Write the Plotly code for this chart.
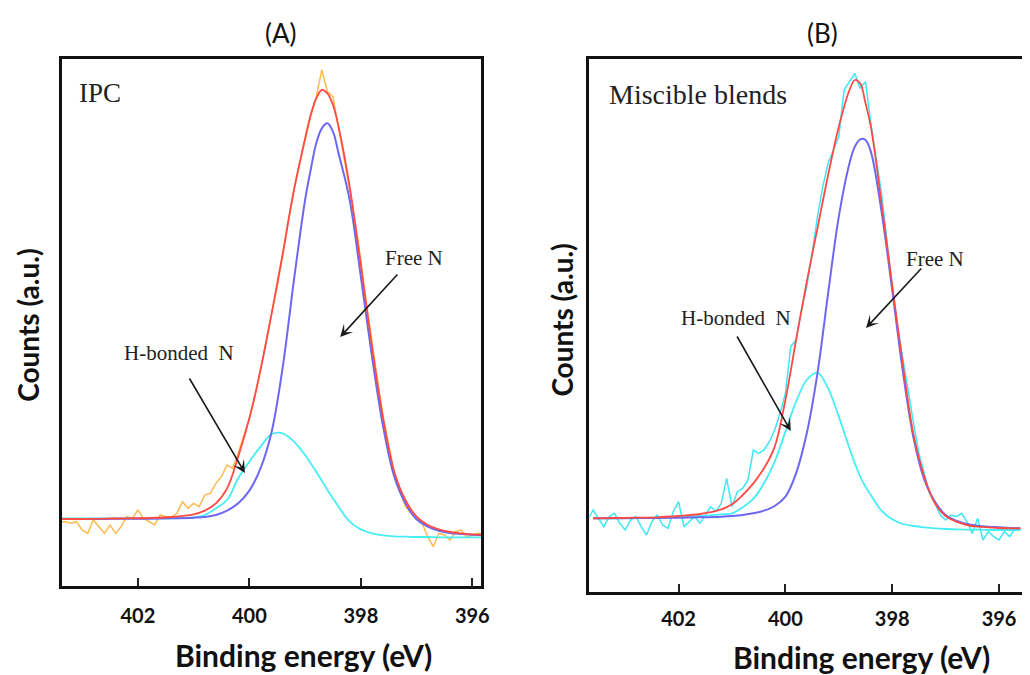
import plotly.graph_objects as go

# ---------------- Panel A: IPC ----------------
# binding energy grid of the fitted curves (eV)
energy_fit_a = [403.4, 403.0, 402.6, 402.2, 401.8, 401.4, 401.0, 400.8, 400.6, 400.4,
                400.2, 400.0, 399.8, 399.6, 399.4, 399.2, 399.0, 398.9, 398.8, 398.7,
                398.6, 398.5, 398.4, 398.2, 398.0, 397.8, 397.6, 397.4, 397.2, 397.0,
                396.8, 396.6, 396.4, 396.2, 396.0, 395.8]
free_n_a = [223, 223, 223, 224, 224, 225, 227, 229, 235, 248,
            270, 308, 375, 485, 680, 940, 1180, 1270, 1350, 1395,
            1410, 1385, 1320, 1180, 950, 710, 500, 350, 270, 222,
            200, 188, 181, 178, 176, 175]
hbond_n_a = [225, 225, 225, 225, 225, 225, 228, 235, 255, 280,
             345, 395, 440, 478, 480, 455, 415, 390, 365, 338,
             310, 285, 260, 215, 192, 180, 174, 171, 170, 169,
             169, 168, 168, 168, 168, 168]
envelope_a = [223, 223, 224, 225, 226, 229, 237, 248, 270, 315,
              410, 525, 670, 840, 1020, 1210, 1365, 1435, 1485, 1510,
              1500, 1465, 1400, 1220, 985, 740, 525, 365, 280, 230,
              205, 192, 184, 180, 177, 175]

# measured spectrum (0.1 eV steps, 403.4 -> 395.8 eV)
energy_raw_a = [round(403.4 - 0.1 * i, 1) for i in range(77)]
counts_raw_a = [215, 215, 210, 215, 190, 180, 220, 200, 180, 205,
                180, 200, 230, 225, 250, 225, 215, 205, 235, 230,
                228, 240, 275, 255, 270, 260, 295, 300, 330, 350,
                385, 375, 420, 470, 525, 590, 670, 750, 835, 920,
                1015, 1120, 1210, 1290, 1360, 1430, 1490, 1570, 1505, 1490,
                1400, 1310, 1210, 1110, 1000, 870, 750, 640, 530, 440,
                360, 310, 260, 240, 225, 210, 170, 140, 180, 175,
                160, 185, 190, 170, 175, 180, 178]

# ---------------- Panel B: Miscible blends ----------------
energy_fit_b = [403.6, 403.2, 402.8, 402.4, 402.0, 401.6, 401.2, 401.0, 400.8, 400.6,
                400.4, 400.2, 400.0, 399.8, 399.6, 399.4, 399.2, 399.0, 398.8, 398.7,
                398.6, 398.5, 398.4, 398.2, 398.0, 397.8, 397.6, 397.4, 397.2, 397.0,
                396.8, 396.6, 396.4, 396.2, 396.0, 395.8, 395.6]
free_n_b = [225, 225, 226, 226, 227, 228, 230, 232, 235, 240,
            248, 262, 290, 360, 480, 660, 900, 1130, 1290, 1340,
            1362, 1360, 1325, 1145, 910, 665, 465, 342, 275, 235,
            218, 208, 203, 200, 198, 196, 195]
hbond_n_b = [225, 225, 226, 227, 229, 232, 237, 240, 258, 284,
             330, 395, 485, 575, 640, 662, 615, 530, 435, 390,
             350, 320, 295, 248, 222, 208, 202, 198, 195, 193,
             192, 191, 191, 190, 190, 190, 190]
envelope_b = [225, 226, 227, 228, 232, 238, 252, 267, 295, 330,
              375, 440, 580, 760, 935, 1095, 1255, 1400, 1510, 1540,
              1530, 1470, 1400, 1170, 925, 685, 475, 350, 270, 232,
              215, 205, 200, 198, 196, 195, 195]

energy_raw_b = [round(403.7 - 0.1 * i, 1) for i in range(82)]
counts_raw_b = [220, 250, 225, 200, 230, 240, 210, 190, 220, 230,
                200, 175, 215, 235, 205, 195, 245, 275, 200, 215,
                230, 210, 235, 260, 245, 270, 345, 260, 305, 315,
                340, 430, 420, 430, 455, 490, 540, 600, 740, 760,
                850, 920, 1020, 1130, 1220, 1290, 1330, 1370, 1510, 1535,
                1560, 1515, 1535, 1410, 1300, 1200, 1060, 920, 800, 700,
                600, 510, 420, 360, 300, 270, 235, 220, 235, 230,
                240, 215, 180, 225, 160, 185, 170, 160, 185, 170,
                195, 190]

tick_values = [402, 400, 398, 396]
tick_text = ["402", "400", "398", "396"]

C_RAW_A = "#FDBA4E"
C_RAW_B = "#3EE6F6"
C_ENV = "#FF4B45"
C_FREE = "#6C68F2"
C_HB = "#46EEF4"

fig = go.Figure()


def add_panel(xa, ya, e_raw, c_raw, raw_color, e_fit, env, free, hb):
    fig.add_trace(go.Scatter(x=e_raw, y=c_raw, mode="lines", xaxis=xa, yaxis=ya,
                             line=dict(color=raw_color, width=1.5), showlegend=False))
    fig.add_trace(go.Scatter(x=e_fit, y=hb, mode="lines", xaxis=xa, yaxis=ya,
                             line=dict(color=C_HB, width=1.8, shape="spline"), showlegend=False))
    fig.add_trace(go.Scatter(x=e_fit, y=free, mode="lines", xaxis=xa, yaxis=ya,
                             line=dict(color=C_FREE, width=2, shape="spline"), showlegend=False))
    fig.add_trace(go.Scatter(x=e_fit, y=env, mode="lines", xaxis=xa, yaxis=ya,
                             line=dict(color=C_ENV, width=1.8, shape="spline"), showlegend=False))


add_panel("x", "y", energy_raw_a, counts_raw_a, C_RAW_A, energy_fit_a, envelope_a, free_n_a, hbond_n_a)
add_panel("x2", "y2", energy_raw_b, counts_raw_b, C_RAW_B, energy_fit_b, envelope_b, free_n_b, hbond_n_b)

W, H = 1030, 675
tick_font = dict(family="Lato", size=20, color="#111", weight="bold")
xcommon = dict(tickvals=tick_values, ticktext=tick_text, ticks="inside", ticklen=8,
               tickwidth=1.5, tickcolor="#222", showgrid=False, zeroline=False,
               showline=True, linewidth=3, linecolor="#111", mirror=True,
               tickfont=tick_font)
ycommon = dict(showgrid=False, zeroline=False, showticklabels=False, ticks="",
               showline=True, linewidth=3, linecolor="#111")

fig.update_layout(
    width=W, height=H,
    margin=dict(l=0, r=0, t=0, b=0),
    paper_bgcolor="white", plot_bgcolor="white",
    xaxis=dict(domain=[62 / W, 485 / W], range=[403.37, 395.84], anchor="y",
               ticklabelstandoff=10, **xcommon),
    yaxis=dict(domain=[1 - 586 / H, 1 - 59 / H], range=[22, 1603], anchor="x", mirror=True, **ycommon),
    xaxis2=dict(domain=[594 / W, 1.0], range=[403.67, 395.57], anchor="y2",
                ticklabelstandoff=7, **xcommon),
    yaxis2=dict(domain=[1 - 592 / H, 1 - 59 / H], range=[4, 1603], anchor="x2", mirror=False, **ycommon),
)

serif = dict(family="Liberation Serif", color="#222")
ann = []


def paper_text(text, cx, cy, font, angle=0):
    ann.append(dict(text=text, x=cx / W, y=1 - cy / H, xref="paper", yref="paper",
                    xanchor="center", yanchor="middle", showarrow=False,
                    textangle=angle, font=font))


# panel letters
paper_text("(A)", 283, 33, dict(family="Lato", size=26, color="#111"))
paper_text("(B)", 829, 33, dict(family="Lato", size=26, color="#111"))
# axis titles
for cx, cy in [(28, 325), (566, 320)]:
    paper_text("Counts (a.u.)", cx, cy, dict(family="Lato", size=28, color="#111", weight="bold"), -90)
for cx, cy in [(306, 655), (868, 657)]:
    paper_text("Binding energy (eV)", cx, cy, dict(family="Lato", size=30, color="#111", weight="bold"))

# sample labels
ann.append(dict(text="IPC", x=403.09, y=1501, xref="x", yref="y", xanchor="left",
                yanchor="middle", showarrow=False, font=dict(size=27, **serif)))
ann.append(dict(text="Miscible blends", x=403.34, y=1495, xref="x2", yref="y2", xanchor="left",
                yanchor="middle", showarrow=False, font=dict(size=28, **serif)))

# peak labels with arrows
for xr, yr, label, tx, ty in [("x", "y", "Free N", 397.05, 1006),
                              ("x", "y", "H-bonded\u00a0 N", 401.27, 721),
                              ("x2", "y2", "Free N", 397.19, 1003),
                              ("x2", "y2", "H-bonded\u00a0 N", 400.92, 826)]:
    ann.append(dict(text=label, x=tx, y=ty, xref=xr, yref=yr, showarrow=False,
                    xanchor="center", yanchor="middle", font=dict(size=21, **serif)))

for xr, yr, hx, hy, txx, tyy in [("x", "y", 398.37, 769, 397.32, 961),
                                 ("x", "y", 400.08, 361, 401.09, 649),
                                 ("x2", "y2", 398.49, 796, 397.43, 979),
                                 ("x2", "y2", 399.90, 487, 400.92, 775)]:
    ann.append(dict(text="", x=hx, y=hy, xref=xr, yref=yr, ax=txx, ay=tyy,
                    axref=xr, ayref=yr, showarrow=True, arrowhead=3, arrowsize=1.3,
                    arrowwidth=1.6, arrowcolor="#1a1a1a"))

fig.update_layout(annotations=ann)

fig.write_html("out.html")
